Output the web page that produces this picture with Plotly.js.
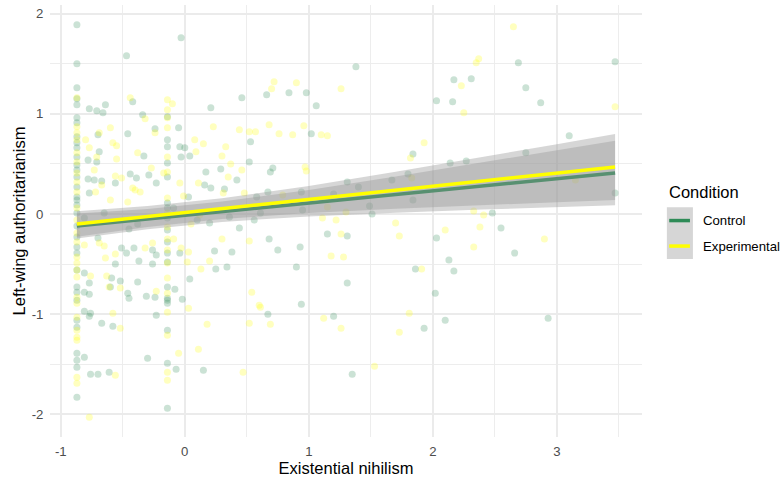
<!DOCTYPE html>
<html>
<head>
<meta charset="utf-8">
<script src="https://cdn.plot.ly/plotly-3.0.1.min.js"></script>
<style>
  html, body { margin: 0; padding: 0; background: #ffffff; }
  #chart { width: 782px; height: 483px; }
</style>
</head>
<body>
<div id="chart"></div>
<script>
// Condition groups
const groupNames = ['Control', 'Experimental'];
const groupColors = ['#2e8b57', '#ffff00'];

// Control participants: existential nihilism (x) and left-wing authoritarianism (y)
const ctrlX = [
  -0.87, -0.87, -0.87, -0.87, -0.87, -0.87, -0.87, -0.87, -0.87, -0.87,
  -0.87, -0.87, -0.87, -0.87, -0.87, -0.87, -0.87, -0.87, -0.87, -0.87,
  -0.87, -0.87, -0.87, -0.87, -0.87, -0.87, -0.87, -0.87, -0.87, -0.87,
  -0.87, -0.87, -0.87,
  -0.14, -0.14, -0.14, -0.14, -0.14, -0.14, -0.14, -0.14, -0.14, -0.14,
  -0.14, -0.14, -0.14, -0.14, -0.14, -0.14, -0.14, -0.14, -0.14,
  -0.77, -0.71, -0.66, -0.64, -0.47, -0.42, -0.34, -0.46, -0.70, -0.69,
  -0.78, -0.71, -0.78, -0.73, -0.67, -0.56, -0.44, -0.39, -0.33, -0.77,
  -0.29, -0.23, -0.24, -0.05, -0.03, -0.04, 0.00, -0.03, 0.04, 0.03,
  0.16, 0.17, 0.21, 0.21, 0.29, 0.32, 0.42, 0.46, 0.53, 0.52,
  0.58, 0.44, 0.56, 0.10, 0.20, -0.38, -0.45, -0.65, -0.81, -0.70,
  -0.09, -0.56, -0.51, -0.47, -0.41, -0.37, -0.26, -0.23, -0.26, -0.04,
  0.24, 0.25, 0.34, 0.38, -0.81, -0.77, -0.81, -0.77, -0.59, -0.60,
  -0.52, -0.46, -0.45, -0.38, -0.31, -0.24, -0.08, -0.02, 0.04, -0.81,
  -0.76, -0.77, -0.67, -0.58, -0.23, -0.30, -0.81, -0.76, -0.70, -0.61,
  -0.07, 0.15, 0.36, 0.66, 0.84, 0.98, 1.06, 1.38, 1.02, 0.71,
  0.69, 0.67, 0.94, 1.20, 1.31, 1.40, 1.67, 1.80, 1.84, 1.84,
  2.03, 2.16, 2.17, 2.31, 2.14, 2.27, 2.48, 1.15, 1.31, 0.95,
  1.51, 1.49, 2.03, 0.61, 0.68, 2.69, 2.75, 2.87, 3.47, 3.10,
  2.75, 3.47, 2.55, 0.75, 0.93, 0.90, 1.31, 0.67, 0.94, 1.20,
  1.35, 1.86, 1.93, 2.13, 2.17, 2.02, 2.10, 2.66, 2.93
];
const ctrlY = [
  1.89, 1.50, 1.26, 1.15, 1.09, 0.96, 0.91, 0.77, 0.71, 0.66,
  0.57, 0.49, 0.44, 0.37, 0.27, 0.17, 0.14, 0.09, 0.01, -0.12,
  -0.23, -0.33, -0.39, -0.56, -0.73, -0.78, -0.86, -1.06, -1.13, -1.39,
  -1.46, -1.53, -1.83,
  0.97, 0.74, 0.67, 0.51, 0.37, 0.11, 0.06, -0.04, -0.16, -0.28,
  -0.39, -0.48, -0.73, -0.84, -0.86, -0.89, -1.16, -1.49, -1.94,
  1.05, 1.03, 1.01, 1.09, 1.58, 1.12, 0.99, 0.80, 0.79, 0.62,
  0.54, 0.52, 0.35, 0.34, 0.33, 0.31, 0.40, 0.36, 0.58, 0.21,
  0.39, 0.31, 0.85, 0.86, 1.76, 0.67, 0.66, 0.57, 0.58, 0.17,
  0.29, 0.42, 0.26, 1.06, 0.45, 0.25, 0.34, 1.16, 0.72, 0.52,
  0.17, -0.14, -0.06, -0.06, -0.09, -0.10, -0.15, 0.01, -0.04, -0.24,
  0.06, -0.50, -0.34, -0.39, -0.34, -0.47, -0.36, -0.41, -0.50, -0.39,
  -0.37, -0.55, -0.53, -0.38, -0.59, -0.69, -0.78, -0.80, -0.64, -0.73,
  -0.67, -0.79, -0.84, -0.68, -0.82, -0.83, -0.75, -0.85, -0.65, -0.97,
  -0.99, -1.02, -1.09, -1.12, -1.01, -1.44, -1.43, -1.60, -1.60, -1.58,
  -1.55, -1.56, -0.03, 1.19, 1.21, 1.21, 1.08, 1.47, 0.80, 0.46,
  0.42, 0.22, 0.22, 0.20, 0.32, 0.27, 0.34, 0.40, 0.60, 0.14,
  1.13, 1.12, 1.34, 1.35, 0.51, 0.53, 0.01, -0.20, -0.22, 0.04,
  0.00, 0.08, -0.24, 0.01, -0.25, 1.51, 1.26, 1.11, 1.52, 0.78,
  0.61, 0.21, -0.14, -0.36, -0.33, -0.53, -0.69, -1.00, -0.90, -1.02,
  -1.60, -0.55, -1.14, -0.46, -0.57, -0.79, -1.06, -0.39, -1.04
];

// Experimental participants
const expX = [
  -0.87, -0.87, -0.87, -0.87, -0.87, -0.87, -0.87, -0.87, -0.87, -0.87,
  -0.87, -0.87, -0.87, -0.87, -0.87, -0.87, -0.87, -0.87, -0.87, -0.87,
  -0.87, -0.87, -0.87, -0.87, -0.87,
  -0.14, -0.14, -0.14, -0.14, -0.14, -0.14, -0.14, -0.14, -0.14, -0.14,
  -0.14, -0.14, -0.14, -0.14, -0.14, -0.14, -0.14, -0.14,
  -0.44, -0.32, -0.60, -0.69, -0.80, -0.77, -0.58, -0.55, -0.71, -0.55,
  -0.73, -0.56, -0.51, -0.38, -0.42, -0.36, -0.40, -0.72, -0.67, -0.60,
  -0.46, -0.27, -0.24, -0.17, -0.10, -0.04, -0.01, 0.08, 0.09, 0.15,
  0.11, 0.23, 0.30, 0.33, 0.37, 0.31, 0.35, 0.46, 0.44, 0.52,
  0.57, 0.48, 0.05, 0.12, -0.81, -0.65, -0.64, -0.56, -0.32, -0.26,
  -0.03, 0.03, 0.02, -0.09, 0.30, 0.20, 0.13, 0.52, -0.76, -0.63,
  -0.52, -0.23, 0.03, -0.58, -0.52, 0.18, -0.05, 0.11, -0.56, 0.47,
  -0.77, 0.54, 0.52, 0.60, -0.69, -0.61, 0.70, 0.72, 0.90, 1.26,
  0.68, 0.76, 0.87, 0.96, 1.10, 1.15, 0.97, 0.98, 0.79, 1.82,
  1.93, 1.83, 2.23, 2.25, 2.35, 2.37, 2.33, 2.41, 2.38, 1.26,
  1.11, 1.22, 1.15, 1.30, 1.70, 1.73, 2.10, 2.65, 3.47, 3.15,
  2.90, 1.18, 1.28, 0.61, 0.69, 1.12, 1.26, 1.53, 1.91, 1.81,
  1.73, 2.33
];
const expY = [
  1.16, 0.87, 0.81, 0.74, 0.61, 0.52, 0.41, 0.32, 0.22, 0.06,
  -0.06, -0.19, -0.28, -0.43, -0.49, -0.56, -0.63, -0.83, -0.89, -1.03,
  -1.16, -1.23, -1.26, -1.63, -1.69,
  1.14, 1.04, 0.96, 0.86, 0.57, 0.42, 0.16, 0.01, -0.13, -0.25,
  -0.36, -0.49, -0.64, -0.79, -0.98, -1.21, -1.58, -1.66,
  1.16, 0.95, 0.86, 0.81, 0.74, 0.66, 0.71, 0.68, 0.57, 0.55,
  0.44, 0.38, 0.36, 0.61, 0.26, 0.22, 0.24, 0.22, 0.29, 0.14,
  0.12, 0.46, 0.81, 0.41, 1.10, 0.31, 0.18, 0.74, 0.62, 0.70,
  0.31, 0.87, 0.58, 0.67, 0.50, 0.21, 0.37, 0.44, 0.84, 0.82,
  0.82, 0.21, -0.10, -0.01, -0.31, -0.32, -0.44, -0.40, -0.34, -0.29,
  -0.34, -0.38, -0.48, -0.25, -0.25, -0.47, -0.55, -0.27, -0.62, -0.62,
  -0.74, -0.77, -0.94, -0.99, -1.14, -1.10, -1.39, -1.35, -1.61, -1.58,
  -2.03, -0.78, -1.09, -0.91, -0.29, -0.73, 1.25, 1.32, 1.31, 1.25,
  0.89, 0.80, 0.79, 0.88, 0.79, 0.78, 0.47, 0.43, 0.19, 0.56,
  0.71, 0.36, 1.28, 1.01, 1.51, 1.55, 0.03, -0.01, -0.13, -0.20,
  -0.04, -0.06, 0.07, 0.02, -0.09, -0.22, -0.16, 1.87, 1.07, 0.34,
  -0.25, -0.42, -0.43, -0.93, -1.10, -1.04, -1.14, -1.52, -0.55, -0.99,
  -1.18, -0.33
];

// Fitted regression lines (linear fit per condition)
const fitX = [-0.87, 3.47];
const ctrlFit = [-0.12, 0.41];
const expFit = [-0.10, 0.47];

// 95% confidence bands of each fit
const bandX = [-0.87, -0.3, 0.3, 1.0, 1.7, 2.4, 3.0, 3.47];
const ctrlLo = [-0.245, -0.153, -0.079, -0.024, 0.013, 0.045, 0.069, 0.086];
const ctrlHi = [0.005, 0.051, 0.125, 0.240, 0.373, 0.513, 0.635, 0.732];
const expLo = [-0.227, -0.129, -0.051, 0.010, 0.053, 0.089, 0.118, 0.139];
const expHi = [0.027, 0.079, 0.157, 0.280, 0.421, 0.567, 0.696, 0.799];

// Axis ticks
const xTickVals = [-1, 0, 1, 2, 3];
const xTickText = ['-1', '0', '1', '2', '3'];
const xMinorVals = [-0.5, 0.5, 1.5, 2.5, 3.5];
const yTickVals = [-2, -1, 0, 1, 2];
const yTickText = ['-2', '-1', '0', '1', '2'];
const yMinorVals = [-1.5, -0.5, 0.5, 1.5];

const FONT = 'Liberation Sans, Arial, sans-serif';
const BAND_FILL = 'rgba(153,153,153,0.4)';

function hexToRgba(hex, a) {
  const n = parseInt(hex.slice(1), 16);
  return 'rgba(' + ((n >> 16) & 255) + ',' + ((n >> 8) & 255) + ',' + (n & 255) + ',' + a + ')';
}

function pointsTrace(x, y, color) {
  return {
    type: 'scatter', mode: 'markers', x: x, y: y,
    marker: { size: 7, color: hexToRgba(color, 0.25), line: { width: 0 } },
    hoverinfo: 'skip', showlegend: false
  };
}

function bandTrace(lo, hi) {
  const xs = bandX.concat(bandX.slice().reverse());
  const ys = hi.concat(lo.slice().reverse());
  return {
    type: 'scatter', mode: 'lines', x: xs, y: ys,
    fill: 'toself', fillcolor: BAND_FILL, line: { width: 0 },
    hoverinfo: 'skip', showlegend: false
  };
}

function fitTrace(y, color) {
  return {
    type: 'scatter', mode: 'lines', x: fitX, y: y,
    line: { color: color, width: 3.5 },
    hoverinfo: 'skip', showlegend: false
  };
}

const traces = [
  pointsTrace(ctrlX, ctrlY, groupColors[0]),
  pointsTrace(expX, expY, groupColors[1]),
  bandTrace(ctrlLo, ctrlHi),
  fitTrace(ctrlFit, groupColors[0]),
  bandTrace(expLo, expHi),
  fitTrace(expFit, groupColors[1])
];

// Legend drawn beside the panel: keys on a grey band-coloured backdrop
const legX0 = 1.042, legX1 = 1.086;
const keyRows = [0.501, 0.442];
const shapes = [{
  type: 'rect', xref: 'paper', yref: 'paper',
  x0: legX0, x1: legX1, y0: 0.412, y1: 0.532,
  fillcolor: '#d6d6d6', line: { width: 0 }, layer: 'above'
}];
const annotations = [{
  xref: 'paper', yref: 'paper', x: legX0, y: 0.567,
  xanchor: 'left', yanchor: 'middle', showarrow: false,
  text: 'Condition', font: { family: FONT, size: 16.5, color: '#000000' }
}];
groupNames.forEach(function (name, i) {
  shapes.push({
    type: 'line', xref: 'paper', yref: 'paper',
    x0: legX0 + 0.004, x1: legX1 - 0.005, y0: keyRows[i], y1: keyRows[i],
    line: { color: groupColors[i], width: 3.5 }, layer: 'above'
  });
  annotations.push({
    xref: 'paper', yref: 'paper', x: 1.099, y: keyRows[i],
    xanchor: 'left', yanchor: 'middle', showarrow: false,
    text: name, font: { family: FONT, size: 13.2, color: '#000000' }
  });
});

const gridColor = '#ebebeb';
const layout = {
  width: 782, height: 483,
  margin: { l: 50, r: 140, t: 5, b: 46 },
  paper_bgcolor: '#ffffff', plot_bgcolor: '#ffffff',
  font: { family: FONT },
  showlegend: false,
  xaxis: {
    range: [-1.087, 3.687],
    tickmode: 'array', tickvals: xTickVals, ticktext: xTickText,
    ticks: 'outside', ticklen: 2, tickcolor: 'rgba(0,0,0,0)',
    tickfont: { family: FONT, size: 13.2, color: '#4d4d4d' },
    showgrid: true, gridcolor: gridColor, gridwidth: 1.8,
    minor: { tickmode: 'array', tickvals: xMinorVals, showgrid: true, gridcolor: gridColor, gridwidth: 0.9 },
    zeroline: false, showline: false,
    title: { text: 'Existential nihilism', standoff: 3, font: { family: FONT, size: 16.5, color: '#000000' } }
  },
  yaxis: {
    range: [-2.226, 2.086],
    tickmode: 'array', tickvals: yTickVals, ticktext: yTickText,
    ticks: 'outside', ticklen: 3, tickcolor: 'rgba(0,0,0,0)',
    tickfont: { family: FONT, size: 13.2, color: '#4d4d4d' },
    showgrid: true, gridcolor: gridColor, gridwidth: 1.8,
    minor: { tickmode: 'array', tickvals: yMinorVals, showgrid: true, gridcolor: gridColor, gridwidth: 0.9 },
    zeroline: false, showline: false,
    title: { text: 'Left-wing authoritarianism', standoff: 1, font: { family: FONT, size: 16.5, color: '#000000' } }
  },
  shapes: shapes,
  annotations: annotations
};

Plotly.newPlot('chart', traces, layout, { staticPlot: true, displayModeBar: false });
</script>
</body>
</html>
